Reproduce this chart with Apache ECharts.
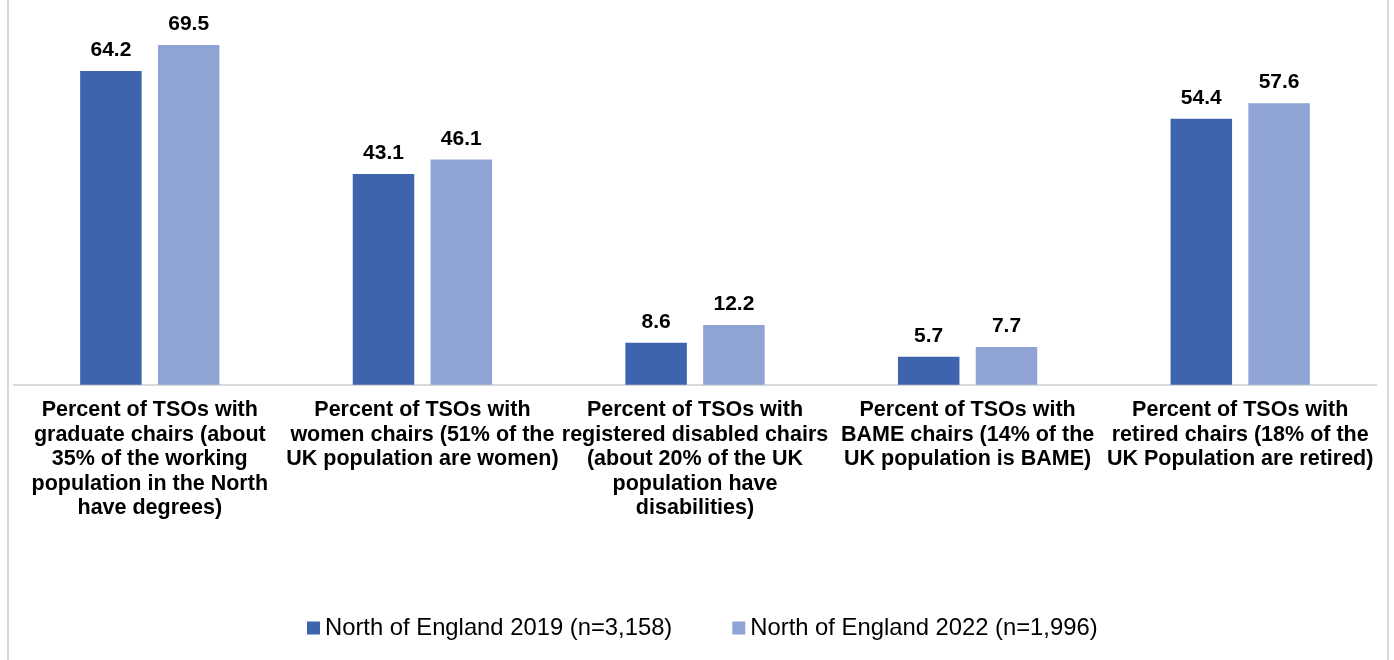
<!DOCTYPE html>
<html>
<head>
<meta charset="utf-8">
<script src="https://cdn.jsdelivr.net/npm/echarts@6/dist/echarts.min.js"></script>
<style>
  html, body { margin: 0; padding: 0; background: #fff; }
  #chart { position: absolute; left: 0; top: 0; width: 1394px; height: 660px; }
  #frame { position: absolute; left: 7px; top: 0; width: 1378px; height: 660px;
           border-left: 2px solid #d9d9d9; border-right: 2px solid #d9d9d9; pointer-events: none; }
</style>
</head>
<body>
<div id="chart"></div>
<div id="frame"></div>
<script>
// Chair characteristics of third sector organisations, North of England
const categories = [
  'Percent of TSOs with\ngraduate chairs (about\n35% of the working\npopulation in the North\nhave degrees)',
  'Percent of TSOs with\nwomen chairs (51% of the\nUK population are women)',
  'Percent of TSOs with\nregistered disabled chairs\n(about 20% of the UK\npopulation have\ndisabilities)',
  'Percent of TSOs with\nBAME chairs (14% of the\nUK population is BAME)',
  'Percent of TSOs with\nretired chairs (18% of the\nUK Population are retired)'
];
const seriesNames = ['North of England 2019 (n=3,158)', 'North of England 2022 (n=1,996)'];
const values2019 = [64.2, 43.1, 8.6, 5.7, 54.4];
const values2022 = [69.5, 46.1, 12.2, 7.7, 57.6];

const FONT = '"Liberation Sans", Arial, Helvetica, sans-serif';
const colors = ['#3d64ad', '#8fa4d5'];

const chart = echarts.init(document.getElementById('chart'), null, { renderer: 'canvas' });

function barSeries(name, data, color) {
  return {
    name: name,
    type: 'bar',
    data: data,
    barWidth: 61.5,
    barGap: '26.5%',
    itemStyle: { color: color },
    label: {
      show: true,
      position: 'top',
      distance: 10,
      color: '#000',
      fontFamily: FONT,
      fontWeight: 'bold',
      fontSize: 21,
      formatter: p => p.value.toFixed(1)
    }
  };
}

chart.setOption({
  animation: false,
  backgroundColor: '#fff',
  color: colors,
  grid: { left: 13.5, right: 17.5, top: 42.6, bottom: 275.3, containLabel: false },
  xAxis: {
    type: 'category',
    data: categories,
    axisLine: { lineStyle: { color: '#d9d9d9', width: 2 } },
    axisTick: { show: false },
    axisLabel: {
      interval: 0,
      margin: 13.5,
      color: '#000',
      fontFamily: FONT,
      fontWeight: 'bold',
      fontSize: 21.5,
      lineHeight: 24.5,
      align: 'center'
    }
  },
  yAxis: {
    type: 'value',
    min: 0,
    max: 70,
    show: false,
    splitLine: { show: false }
  },
  legend: {
    bottom: 15,
    left: 302,
    itemWidth: 13,
    itemHeight: 13,
    itemGap: 60,
    icon: 'rect',
    textStyle: { color: '#000', fontFamily: FONT, fontSize: 23.8 },
    data: seriesNames
  },
  series: [
    barSeries(seriesNames[0], values2019, colors[0]),
    barSeries(seriesNames[1], values2022, colors[1])
  ]
});
</script>
</body>
</html>
